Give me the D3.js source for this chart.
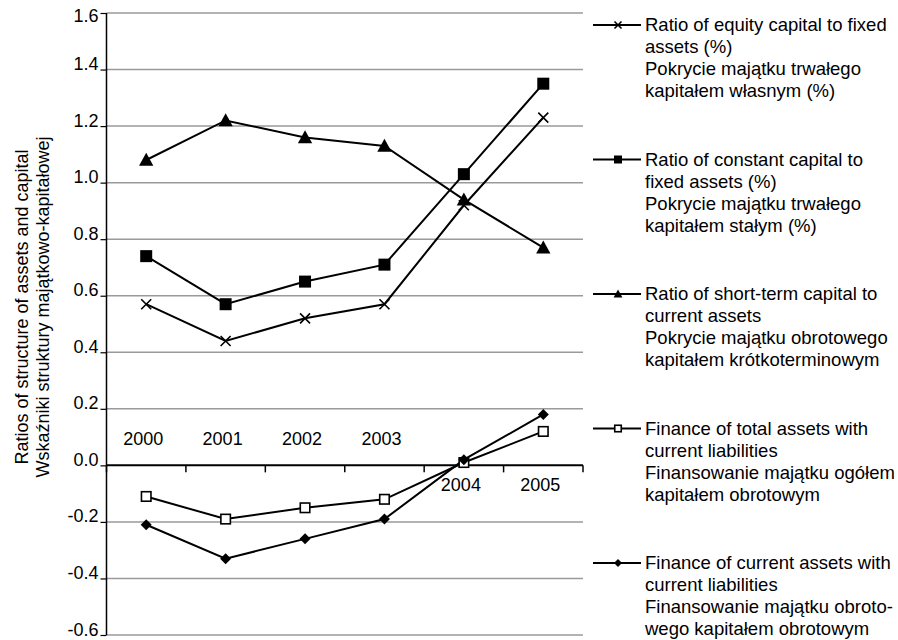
<!DOCTYPE html>
<html>
<head>
<meta charset="utf-8">
<script src="https://cdn.jsdelivr.net/npm/d3@7"></script>
<style>
  html, body { margin: 0; padding: 0; background: #fff; }
  svg { display: block; font-family: "Liberation Sans", Arial, sans-serif; }
</style>
</head>
<body>
<svg id="chart" width="898" height="640"></svg>
<script>
// Years on the category axis
const years = ["2000", "2001", "2002", "2003", "2004", "2005"];

// Ratio values per series, one per year
const equityToFixed        = [0.57, 0.44, 0.52, 0.57, 0.92, 1.23];
const constantToFixed      = [0.74, 0.57, 0.65, 0.71, 1.03, 1.35];
const shortTermToCurrent   = [1.08, 1.22, 1.16, 1.13, 0.94, 0.77];
const totalAssetsFinance   = [-0.11, -0.19, -0.15, -0.12, 0.01, 0.12];
const currentAssetsFinance = [-0.21, -0.33, -0.26, -0.19, 0.02, 0.18];

// Y axis tick values
const yTicks = [-0.6, -0.4, -0.2, 0.0, 0.2, 0.4, 0.6, 0.8, 1.0, 1.2, 1.4, 1.6];

// Legend text, bilingual, one array of lines per series
const legendEquity    = ["Ratio of equity capital to fixed", "assets (%)", "Pokrycie majątku trwałego", "kapitałem własnym (%)"];
const legendConstant  = ["Ratio of constant capital to", "fixed assets (%)", "Pokrycie majątku trwałego", "kapitałem stałym (%)"];
const legendShortTerm = ["Ratio of short-term capital to", "current assets", "Pokrycie majątku obrotowego", "kapitałem krótkoterminowym"];
const legendTotal     = ["Finance of total assets with", "current liabilities", "Finansowanie majątku ogółem", "kapitałem obrotowym"];
const legendCurrent   = ["Finance of current assets with", "current liabilities", "Finansowanie majątku obroto-", "wego kapitałem obrotowym"];

// Axis title lines
const yTitle = ["Ratios of structure of assets and capital", "Wskaźniki struktury majątkowo-kapitałowej"];

const series = [
  { values: equityToFixed,        marker: "cross",      legend: legendEquity },
  { values: constantToFixed,      marker: "square",     legend: legendConstant },
  { values: shortTermToCurrent,   marker: "triangle",   legend: legendShortTerm },
  { values: totalAssetsFinance,   marker: "openSquare", legend: legendTotal },
  { values: currentAssetsFinance, marker: "diamond",    legend: legendCurrent }
];

const svg = d3.select("#chart");
const plot = { left: 106.5, right: 583, top: 13, bottom: 635 };
const FONT = 18;
const LEGEND_FONT = 18.5;

const x = d3.scaleBand().domain(years).range([plot.left, plot.right]).padding(0);
const y = d3.scaleLinear().domain([-0.6, 1.6]).range([plot.bottom, plot.top]);

// Horizontal gridlines
svg.append("g")
  .selectAll("line")
  .data(yTicks.filter(t => t !== 0))
  .join("line")
  .attr("x1", plot.left).attr("x2", plot.right)
  .attr("y1", d => y(d)).attr("y2", d => y(d))
  .attr("stroke", "#9a9a9a").attr("stroke-width", 1.5);

// Left value axis; labels sit with their baseline on the tick,
// except the top one which is nudged down to stay on the canvas
const fmt = d3.format(".1f");
const yMax = yTicks[yTicks.length - 1];
const yAxis = svg.append("g")
  .attr("transform", `translate(${plot.left},0)`)
  .call(d3.axisLeft(y).tickValues(yTicks)
    .tickFormat(d => fmt(d).replace("\u2212", "-"))
    .tickSize(6).tickPadding(2));
yAxis.select(".domain").attr("stroke", "#000").attr("stroke-width", 1.5).attr("d", `M0,${plot.top}V${plot.bottom}`);
yAxis.selectAll(".tick line").attr("stroke", "#000").attr("stroke-width", 1.2);
yAxis.selectAll(".tick text")
  .attr("font-size", FONT).attr("fill", "#000")
  .attr("font-family", "Liberation Sans, Arial, sans-serif")
  .attr("dy", d => d === yMax ? "0.45em" : "0");

// Category axis along zero, with ticks at band boundaries
const xAxis = svg.append("g").attr("transform", `translate(0,${y(0)})`);
xAxis.append("line")
  .attr("x1", plot.left).attr("x2", plot.right)
  .attr("stroke", "#000").attr("stroke-width", 2);
const boundaries = years.map(d => x(d)).concat([x(years[years.length - 1]) + x.bandwidth()]);
xAxis.selectAll("line.tick")
  .data(boundaries)
  .join("line")
  .attr("class", "tick")
  .attr("x1", d => d).attr("x2", d => d)
  .attr("y1", 0).attr("y2", 7)
  .attr("stroke", "#000").attr("stroke-width", 1.5);

// Year labels sit on the side of the axis away from the lower series
xAxis.selectAll("text")
  .data(years)
  .join("text")
  .attr("x", d => x(d) + x.bandwidth() / 2 - 3)
  .attr("y", (d, i) => currentAssetsFinance[i] < 0 ? -20 : 26)
  .attr("text-anchor", "middle")
  .attr("font-size", FONT)
  .text(d => d);

// Marker shapes
function drawMarker(g, type, size) {
  const s = size;
  if (type === "cross") {
    g.append("path")
      .attr("d", `M${-s/2},${-s/2}L${s/2},${s/2}M${-s/2},${s/2}L${s/2},${-s/2}`)
      .attr("stroke", "#000").attr("stroke-width", 1.6).attr("fill", "none");
  } else if (type === "square") {
    g.append("rect").attr("x", -s/2).attr("y", -s/2).attr("width", s).attr("height", s).attr("fill", "#000");
  } else if (type === "openSquare") {
    g.append("rect").attr("x", -s/2 + 0.75).attr("y", -s/2 + 0.75).attr("width", s - 1.5).attr("height", s - 1.5)
      .attr("fill", "#fff").attr("stroke", "#000").attr("stroke-width", 1.6);
  } else if (type === "triangle") {
    g.append("path").attr("d", `M0,${-s*0.55}L${s*0.55},${s*0.45}L${-s*0.55},${s*0.45}Z`).attr("fill", "#000");
  } else if (type === "diamond") {
    g.append("path").attr("d", `M0,${-s/2}L${s/2},0L0,${s/2}L${-s/2},0Z`).attr("fill", "#000");
  }
}

const markerSize = { cross: 10, square: 12, triangle: 13, openSquare: 11, diamond: 11 };
const legendMarkerSize = { cross: 7, square: 8, triangle: 8, openSquare: 8, diamond: 8 };

const line = d3.line()
  .x((d, i) => x(years[i]) + x.bandwidth() / 2)
  .y(d => y(d));

series.forEach(s => {
  svg.append("path")
    .datum(s.values)
    .attr("d", line)
    .attr("fill", "none")
    .attr("stroke", "#000")
    .attr("stroke-width", 2);
});
series.forEach(s => {
  s.values.forEach((v, i) => {
    const g = svg.append("g")
      .attr("transform", `translate(${x(years[i]) + x.bandwidth() / 2},${y(v)})`);
    drawMarker(g, s.marker, markerSize[s.marker]);
  });
});

// Legend: entries evenly spaced down the right side
const legendFirst = 31, legendLast = 569;
const entryGap = (legendLast - legendFirst) / (series.length - 1);
const lineGap = 22;
series.forEach((s, k) => {
  const base = legendFirst + k * entryGap;
  const g = svg.append("g");
  g.append("line")
    .attr("x1", 593).attr("x2", 641)
    .attr("y1", base - 6).attr("y2", base - 6)
    .attr("stroke", "#000").attr("stroke-width", 2);
  const m = g.append("g").attr("transform", `translate(618,${base - 6})`);
  drawMarker(m, s.marker, legendMarkerSize[s.marker]);
  s.legend.forEach((t, j) => {
    g.append("text")
      .attr("x", 645)
      .attr("y", base + j * lineGap)
      .attr("font-size", LEGEND_FONT)
      .text(t);
  });
});

// Rotated axis title, two centred lines
const titleG = svg.append("g").attr("transform", "translate(0,307)");
yTitle.forEach((t, j) => {
  titleG.append("text")
    .attr("transform", `translate(${28 + j * 21},0) rotate(-90)`)
    .attr("text-anchor", "middle")
    .attr("font-size", FONT)
    .text(t);
});
</script>
</body>
</html>
